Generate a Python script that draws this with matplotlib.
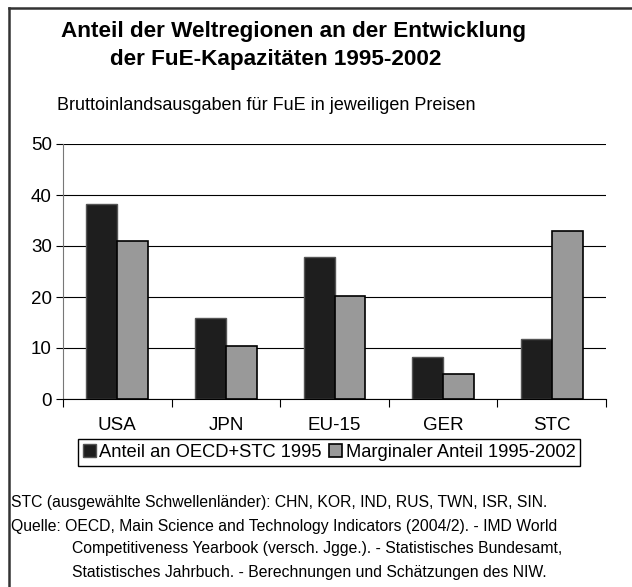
import matplotlib.pyplot as plt
from matplotlib.lines import Line2D
import numpy as np

plt.rcParams['font.family'] = ['Liberation Sans', 'DejaVu Sans']

# Daten
regionen = ['USA', 'JPN', 'EU-15', 'GER', 'STC']
anteil_1995 = [38.2, 15.8, 27.8, 8.2, 11.8]
marginal_1995_2002 = [31.0, 10.3, 20.1, 5.0, 33.0]
serien = ['Anteil an OECD+STC 1995', 'Marginaler Anteil 1995-2002']

W, H = 632, 587
fig = plt.figure(figsize=(W / 100, H / 100), dpi=100)

def fx(px):
    return px / W

def fy(py):
    return 1 - py / H

# Rahmen (nur oben und links)
fig.add_artist(Line2D([fx(9), 1], [fy(8), fy(8)], color='#333333', lw=1.8))
fig.add_artist(Line2D([fx(9), fx(9)], [fy(8), 0], color='#333333', lw=1.8))

ax = fig.add_axes([fx(63), fy(399), fx(606) - fx(63), fy(144) - fy(399)])

x = np.arange(len(regionen)) + 0.5
bw = 0.285
ax.bar(x - bw / 2, anteil_1995, bw, color='#1e1e1e', edgecolor='#555555', lw=1, label=serien[0], zorder=3)
ax.bar(x + bw / 2, marginal_1995_2002, bw, color='#999999', edgecolor='black', lw=1.2, label=serien[1], zorder=3)

ax.set_xlim(0, len(regionen))
ax.set_ylim(0, 50)
ax.set_yticks(range(0, 51, 10))
ax.yaxis.grid(True, color='black', lw=0.8, zorder=0)
ax.set_axisbelow(True)

for s in ['top', 'right']:
    ax.spines[s].set_visible(False)
ax.spines['left'].set_color('#777777')
ax.spines['bottom'].set_color('black')

ax.set_xticks(np.arange(len(regionen) + 1))
ax.set_xticklabels([])
ax.set_xticks(x, minor=True)
ax.set_xticklabels(regionen, minor=True, fontsize=13.5)
ax.tick_params(axis='x', which='major', length=6, direction='out', color='black')
ax.tick_params(axis='x', which='minor', length=0, pad=13)
ax.tick_params(axis='y', length=5, direction='out', labelsize=13.5, pad=3)

fig.legend(loc='center', bbox_to_anchor=(fx(329), fy(452.5)), ncol=2, fontsize=13.2,
           frameon=True, fancybox=False, edgecolor='black', framealpha=1,
           handlelength=0.7, handleheight=0.7, handletextpad=0.2, columnspacing=0.4,
           borderpad=0.25, borderaxespad=0)

# Titel
fig.text(fx(61), fy(32), 'Anteil der Weltregionen an der Entwicklung', fontsize=16.2,
         fontweight='bold', va='center', ha='left')
fig.text(fx(110), fy(59), 'der FuE-Kapazitäten 1995-2002', fontsize=16.2,
         fontweight='bold', va='center', ha='left')
fig.text(fx(57), fy(105), 'Bruttoinlandsausgaben für FuE in jeweiligen Preisen', fontsize=13,
         va='center', ha='left')

# Fußnoten
fs = 11.35
fig.text(fx(11), fy(502), 'STC (ausgewählte Schwellenländer): CHN, KOR, IND, RUS, TWN, ISR, SIN.',
         fontsize=fs, va='center', ha='left')
fig.text(fx(11), fy(526), 'Quelle: OECD, Main Science and Technology Indicators (2004/2). - IMD World',
         fontsize=fs, va='center', ha='left')
fig.text(fx(72), fy(549), 'Competitiveness Yearbook (versch. Jgge.). - Statistisches Bundesamt,',
         fontsize=fs, va='center', ha='left')
fig.text(fx(72), fy(572), 'Statistisches Jahrbuch. - Berechnungen und Schätzungen des NIW.',
         fontsize=fs, va='center', ha='left')

fig.savefig('out.png', dpi=100)
